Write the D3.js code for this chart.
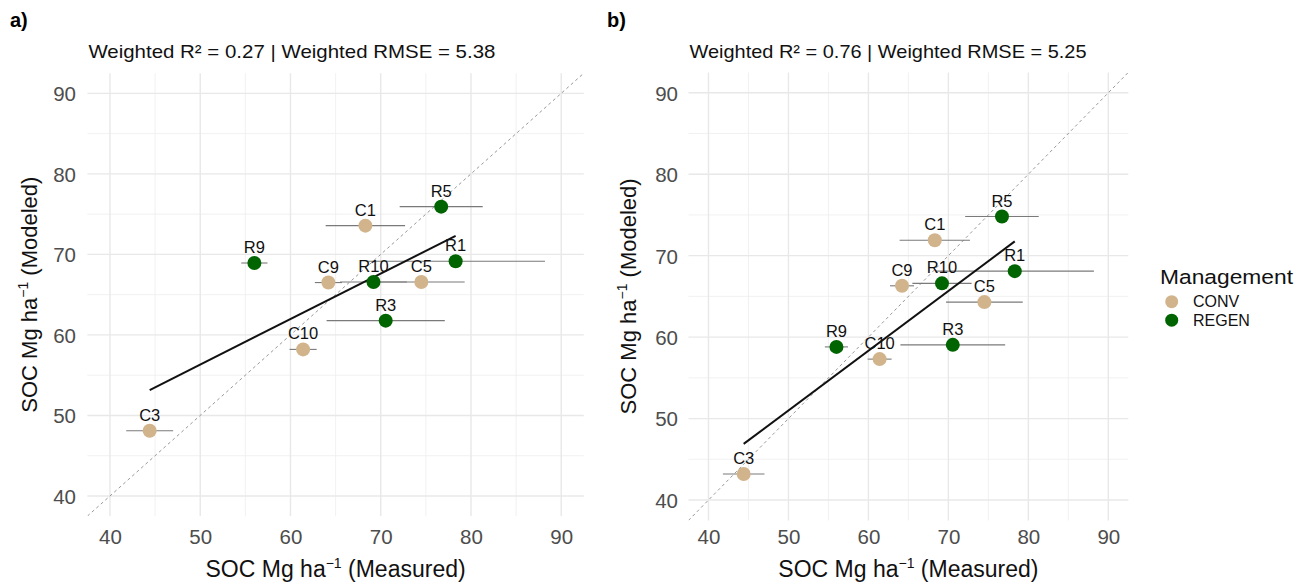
<!DOCTYPE html>
<html><head><meta charset="utf-8">
<script src="https://cdn.jsdelivr.net/npm/d3@7"></script>
<style>
html,body{margin:0;padding:0;background:#fff;}
svg{display:block;font-family:"Liberation Sans",Arial,Helvetica,sans-serif;}
</style></head>
<body>
<svg id="chart" width="1311" height="585"></svg>
<script>
// ---- data ----
const sites      = ["C1","C3","C5","C9","C10","R1","R3","R5","R9","R10"];
const management = ["CONV","CONV","CONV","CONV","CONV","REGEN","REGEN","REGEN","REGEN","REGEN"];
const measured   = [68.3, 44.4, 74.5, 64.2, 61.4, 78.3, 70.55, 76.7, 56.0, 69.2];
const measuredErr= [4.4, 2.6, 4.8, 1.5, 1.5, 9.9, 6.55, 4.6, 1.45, 3.7];
const modeledA   = [73.57, 48.1, 66.57, 66.5, 58.2, 69.14, 61.77, 75.93, 68.93, 66.57];
const modeledB   = [71.9, 43.2, 64.3, 66.3, 57.3, 68.1, 59.05, 74.8, 58.8, 66.6];
const fitA       = [[44.4, 53.15], [78.3, 72.3]];
const fitB       = [[44.4, 46.9], [78.3, 71.75]];
const titleA     = "Weighted R² = 0.27 | Weighted RMSE = 5.38";
const titleB     = "Weighted R² = 0.76 | Weighted RMSE = 5.25";
const majorTicks = [40, 50, 60, 70, 80, 90];
const minorTicks = [45, 55, 65, 75, 85];
const axisDomain = [37.5, 92.5];
const groups     = ["CONV", "REGEN"];
const groupColors= ["#D2B48C", "#006400"];

const color = d3.scaleOrdinal().domain(groups).range(groupColors);
const svg = d3.select("#chart");

function panel(cfg){
  const x = d3.scaleLinear().domain(axisDomain).range([cfg.x0, cfg.x1]);
  const y = d3.scaleLinear().domain(axisDomain).range([cfg.y1, cfg.y0]);
  const g = svg.append("g");
  const clipId = "clip" + cfg.id;
  svg.append("clipPath").attr("id", clipId).append("rect")
    .attr("x", cfg.x0).attr("y", cfg.y0).attr("width", cfg.x1-cfg.x0).attr("height", cfg.y1-cfg.y0);

  // grid
  const grid = g.append("g");
  minorTicks.forEach(t=>{
    grid.append("line").attr("x1", x(t)).attr("x2", x(t)).attr("y1", cfg.y0).attr("y2", cfg.y1)
      .attr("stroke", "#ededed").attr("stroke-width", 0.8);
    grid.append("line").attr("y1", y(t)).attr("y2", y(t)).attr("x1", cfg.x0).attr("x2", cfg.x1)
      .attr("stroke", "#ededed").attr("stroke-width", 0.8);
  });
  majorTicks.forEach(t=>{
    grid.append("line").attr("x1", x(t)).attr("x2", x(t)).attr("y1", cfg.y0).attr("y2", cfg.y1)
      .attr("stroke", "#e8e8e8").attr("stroke-width", 1.4);
    grid.append("line").attr("y1", y(t)).attr("y2", y(t)).attr("x1", cfg.x0).attr("x2", cfg.x1)
      .attr("stroke", "#e8e8e8").attr("stroke-width", 1.4);
  });

  // axes (tick labels only)
  const xAxis = d3.axisBottom(x).tickValues(majorTicks).tickSize(0).tickPadding(0);
  const xa = g.append("g").attr("transform", `translate(0,${cfg.xTickY})`).call(xAxis);
  xa.select(".domain").remove();
  xa.selectAll("text").attr("font-size", 20.5).attr("fill", "#4d4d4d").attr("dy", 0)
    .attr("font-family", "Liberation Sans, Arial, sans-serif");
  const yAxis = d3.axisLeft(y).tickValues(majorTicks).tickSize(0).tickPadding(0);
  const ya = g.append("g").attr("transform", `translate(${cfg.yTickX},0)`).call(yAxis);
  ya.select(".domain").remove();
  ya.selectAll("text").attr("font-size", 20.5).attr("fill", "#4d4d4d").attr("dy", "0.36em")
    .attr("font-family", "Liberation Sans, Arial, sans-serif");

  // 1:1 line
  g.append("line").attr("clip-path", `url(#${clipId})`)
    .attr("x1", x(axisDomain[0])).attr("y1", y(axisDomain[0]))
    .attr("x2", x(axisDomain[1])).attr("y2", y(axisDomain[1]))
    .attr("stroke", "#8c8c8c").attr("stroke-width", 0.9).attr("stroke-dasharray", "3,3");

  const data = sites.map((s,i)=>({site:s, m:management[i], x:measured[i], e:measuredErr[i], y:cfg.modeled[i]}));

  // error bars
  g.append("g").selectAll("line").data(data).join("line")
    .attr("x1", d=>x(d.x-d.e)).attr("x2", d=>x(d.x+d.e))
    .attr("y1", d=>y(d.y)).attr("y2", d=>y(d.y))
    .attr("stroke", "#7a7a7a").attr("stroke-width", 1.1);

  // fit line
  g.append("path").datum(cfg.fit)
    .attr("d", d3.line().x(d=>x(d[0])).y(d=>y(d[1])))
    .attr("stroke", "#111").attr("stroke-width", 2).attr("fill", "none");

  // points
  g.append("g").selectAll("circle").data(data).join("circle")
    .attr("cx", d=>x(d.x)).attr("cy", d=>y(d.y)).attr("r", 7)
    .attr("fill", d=>color(d.m));

  // labels
  g.append("g").selectAll("text").data(data).join("text")
    .attr("x", d=>x(d.x)).attr("y", d=>y(d.y)-10)
    .attr("text-anchor", "middle").attr("font-size", 16.5).attr("fill", "#111")
    .text(d=>d.site);

  // title
  g.append("text").attr("x", cfg.x0+1).attr("y", 58.3).attr("font-size", 19).attr("fill", "#111")
    .attr("textLength", cfg.titleLen).attr("lengthAdjust", "spacingAndGlyphs")
    .text(cfg.title);

  // x axis title
  const xt = g.append("text").attr("x", (cfg.x0+cfg.x1)/2).attr("y", 577).attr("text-anchor", "middle")
    .attr("font-size", 23).attr("fill", "#111");
  xt.append("tspan").text("SOC Mg ha");
  xt.append("tspan").attr("dy", -9).attr("font-size", 14).text("−1");
  xt.append("tspan").attr("dy", 9).text(" (Measured)");

  // y axis title
  const yc = (cfg.y0+cfg.y1)/2;
  const yt = g.append("text").attr("transform", `translate(${cfg.yTitleX},${yc}) rotate(-90)`)
    .attr("text-anchor", "middle").attr("font-size", 22).attr("fill", "#111");
  yt.append("tspan").text("SOC Mg ha");
  yt.append("tspan").attr("dy", -9).attr("font-size", 14).text("−1");
  yt.append("tspan").attr("dy", 9).text(" (Modeled)");

  // panel tag
  svg.append("text").attr("x", cfg.tagX).attr("y", 27).attr("font-size", 20).attr("font-weight", "bold")
    .attr("fill", "#000").text(cfg.tag);
}

panel({id:"a", tag:"a)", tagX:10, x0:87.4, x1:583.8, y0:73.2, y1:516.1, xTickY:543.5, yTickX:76,
       yTitleX:37, modeled:modeledA, fit:fitA, title:titleA, titleLen:407});
panel({id:"b", tag:"b)", tagX:607, x0:688.5, x1:1128.3, y0:72.4, y1:520.4, xTickY:543.5, yTickX:678,
       yTitleX:636, modeled:modeledB, fit:fitB, title:titleB, titleLen:397});

// legend
const lg = svg.append("g");
lg.append("text").attr("x", 1160).attr("y", 283.5).attr("font-size", 20.5).attr("fill", "#111")
  .attr("textLength", 133).attr("lengthAdjust", "spacingAndGlyphs")
  .text("Management");
groups.forEach((gname,i)=>{
  const cy = 301.7 + i*18.5;
  lg.append("circle").attr("cx", 1171.7).attr("cy", cy).attr("r", 6.5).attr("fill", color(gname));
  lg.append("text").attr("x", 1193).attr("y", cy).attr("dy", "0.36em").attr("font-size", 16)
    .attr("fill", "#111").text(gname);
});
</script>
</body></html>
